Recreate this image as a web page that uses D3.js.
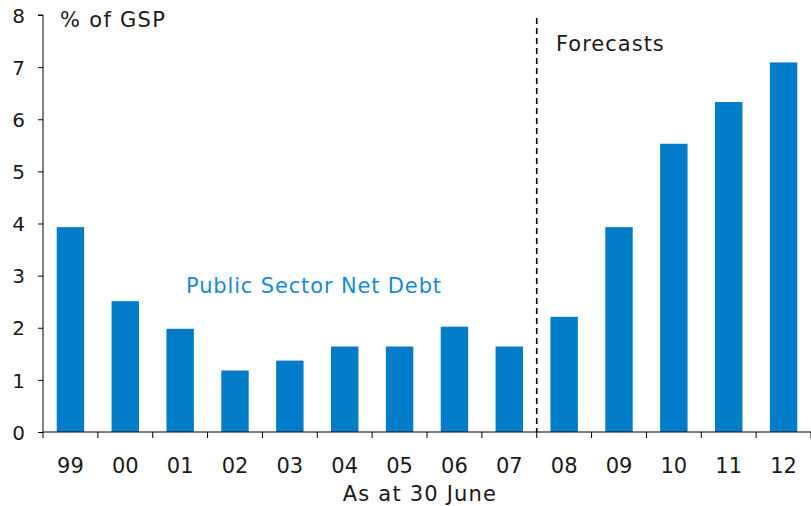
<!DOCTYPE html>
<html>
<head>
<meta charset="utf-8">
<script src="https://cdn.jsdelivr.net/npm/d3@7"></script>
<style>
body { margin: 0; background: #fff; }
text { font-family: "DejaVu Sans", Verdana, sans-serif; }
</style>
</head>
<body>
<script>
var years = ["99","00","01","02","03","04","05","06","07","08","09","10","11","12"];
var debt = [3.93, 2.51, 1.98, 1.18, 1.37, 1.64, 1.64, 2.02, 1.64, 2.21, 3.93, 5.53, 6.33, 7.09];
var yTicks = [0,1,2,3,4,5,6,7,8];
var forecastFrom = "08";

var w = 811;
var h = 506;
var mLeft = 43, mRight = 811, mTop = 15, mBottom = 432;

var svg = d3.select("body")
		.append("svg")
		.attr("width", w)
		.attr("height", h);

var x = d3.scaleBand()
		.domain(years)
		.range([mLeft, mRight])
		.paddingInner(0.5)
		.paddingOuter(0.25);

var y = d3.scaleLinear()
		.domain([0, 8])
		.range([mBottom, mTop]);

svg.selectAll("rect")
	.data(debt)
	.enter()
	.append("rect")
	.attr("x", function(d, i){ return x(years[i]); })
	.attr("y", function(d){ return y(d); })
	.attr("width", x.bandwidth())
	.attr("height", function(d){ return mBottom - y(d); })
	.attr("fill", "#007cc8");

// y axis
var yAxis = svg.append("g")
	.attr("transform", "translate(" + mLeft + ",0)")
	.call(d3.axisLeft(y).tickValues(yTicks).tickSize(5).tickPadding(13).tickFormat(d3.format("d")));
yAxis.select(".domain").attr("d", "M-5," + mTop + "H0V" + mBottom);
yAxis.selectAll("text")
	.attr("font-size", 20)
	.attr("font-family", "DejaVu Sans, sans-serif")
	.attr("fill", "#1a1a1a")
	.attr("dy", "0.36em");

// x axis with ticks between bars
var step = x.step();
var xAxis = svg.append("g").attr("transform", "translate(0," + mBottom + ")");
xAxis.append("line").attr("x1", mLeft).attr("x2", mRight).attr("stroke", "#000");
xAxis.selectAll(".tk")
	.data(d3.range(years.length + 1))
	.enter()
	.append("line")
	.attr("x1", function(i){ return mLeft + i * step; })
	.attr("x2", function(i){ return mLeft + i * step; })
	.attr("y1", 0).attr("y2", 6)
	.attr("stroke", "#000");
xAxis.selectAll(".lbl")
	.data(years)
	.enter()
	.append("text")
	.attr("x", function(d){ return x(d) + x.bandwidth() / 2; })
	.attr("y", 41)
	.attr("text-anchor", "middle")
	.attr("font-size", 21)
	.attr("fill", "#1a1a1a")
	.text(function(d){ return d; });

svg.append("text")
	.attr("x", 420)
	.attr("y", 501)
	.attr("text-anchor", "middle")
	.attr("font-size", 21)
	.attr("letter-spacing", 1.2)
	.attr("fill", "#1a1a1a")
	.text("As at 30 June");

// forecast divider
var divX = x(forecastFrom) - (step - x.bandwidth()) / 2;
svg.append("line")
	.attr("x1", divX).attr("x2", divX)
	.attr("y1", 18).attr("y2", mBottom)
	.attr("stroke", "#000")
	.attr("stroke-width", 1.6)
	.attr("stroke-dasharray", "6,4");

svg.append("text").attr("x", 60).attr("y", 27).attr("font-size", 21).attr("letter-spacing", 1.3).attr("fill", "#1a1a1a").text("% of GSP");
svg.append("text").attr("x", 556).attr("y", 51).attr("font-size", 21).attr("letter-spacing", 1).attr("fill", "#1a1a1a").text("Forecasts");
svg.append("text").attr("x", 186).attr("y", 293).attr("font-size", 21).attr("letter-spacing", 0.85).attr("fill", "#1a88d2").text("Public Sector Net Debt");
</script>
</body>
</html>
